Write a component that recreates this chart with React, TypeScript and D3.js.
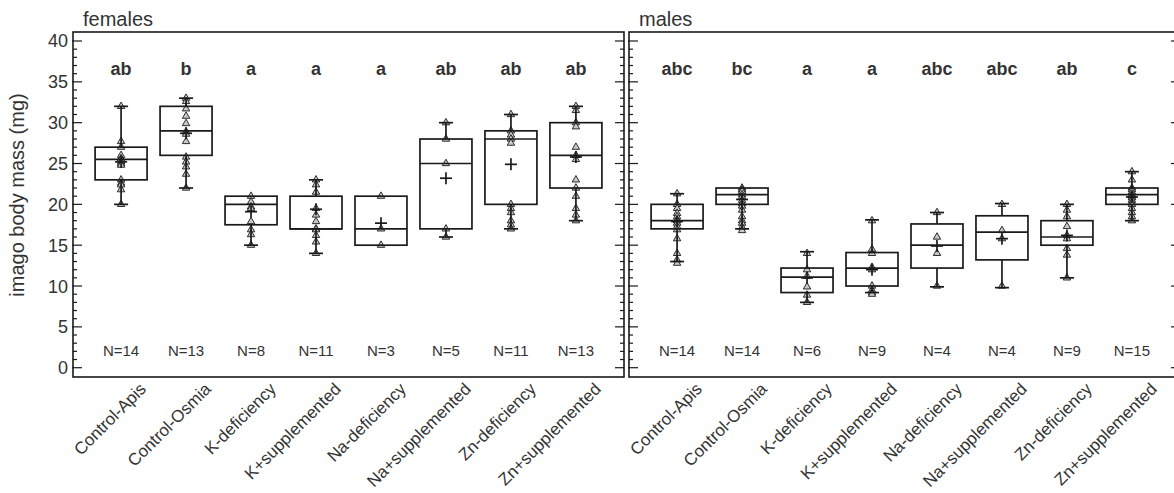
import * as d3 from "d3";

// treatment groups, same order in both panels
const categories = [
  "Control-Apis",
  "Control-Osmia",
  "K-deficiency",
  "K+supplemented",
  "Na-deficiency",
  "Na+supplemented",
  "Zn-deficiency",
  "Zn+supplemented",
];

// [min, q1, median, q3, max, mean]
const femaleBoxes = [
  [20, 23, 25.5, 27, 32, 25.2],
  [22, 26, 29, 32, 33, 28.7],
  [15, 17.5, 20, 21, 21, 19.1],
  [14, 17, 17, 21, 23, 19.4],
  [15, 15, 17, 21, 21, 17.7],
  [16, 17, 25, 28, 30, 23.2],
  [17, 20, 28, 29, 31, 24.9],
  [18, 22, 26, 30, 32, 25.8],
];
const malesBoxes = [
  [13, 17, 18, 20, 21.3, 17.9],
  [17, 20, 21.2, 22, 22, 20.6],
  [8, 9.2, 11.1, 12.2, 14.2, 11],
  [9.2, 10, 12.2, 14.1, 18.1, 12],
  [9.9, 12.2, 15, 17.6, 19, 14.9],
  [9.8, 13.2, 16.6, 18.6, 20.1, 15.8],
  [11, 15, 16, 18, 20, 16.2],
  [18, 20, 21.2, 22, 24, 20.9],
];

const femalePoints = [
  [32, 27.7, 27, 26, 25.6, 25.5, 25.2, 25, 24.8, 23, 22.6, 22.4, 21.8, 20],
  [33, 32.6, 31.7, 30.8, 29.9, 28.9, 28.6, 27.7, 25.8, 25.2, 24.6, 23.7, 22],
  [21, 20.3, 19.7, 19.5, 17.9, 16.9, 16.3, 15],
  [23, 22.4, 21.5, 19.5, 18.7, 17.9, 17, 16.9, 16.2, 15.4, 14],
  [21, 17, 15],
  [30, 28, 25, 17, 16],
  [31, 29, 28.5, 28, 27.5, 20, 19.5, 19, 18, 17.5, 17],
  [32, 31.5, 30, 29.5, 27, 26, 25.5, 23, 22, 21, 19.5, 18.7, 18],
];
const malePoints = [
  [21.3, 20, 19.5, 18.9, 18.5, 18.1, 18, 17.7, 17.3, 16.9, 15.8, 14, 13.2, 12.8],
  [22, 21.8, 21.6, 21.2, 20.9, 20.5, 20.1, 19.8, 19.3, 18.5, 18, 17.7, 17.2, 16.8],
  [14, 12, 11.2, 9.9, 8.9, 8],
  [18, 14.5, 14, 12.3, 12, 10, 9.5, 9.2, 9],
  [19, 16, 14, 10],
  [20, 16.8, 15.8, 10],
  [20, 19.3, 18.5, 17.3, 16.2, 15.8, 14.6, 13.8, 11],
  [24, 23, 22, 21.8, 21.5, 21.2, 21, 20.8, 20.5, 20.2, 20, 19.5, 19, 18.5, 18],
];

const femaleLetters = ["ab", "b", "a", "a", "a", "ab", "ab", "ab"];
const maleLetters = ["abc", "bc", "a", "a", "abc", "abc", "ab", "c"];
const femaleN = [14, 13, 8, 11, 3, 5, 11, 13];
const maleN = [14, 14, 6, 9, 4, 4, 9, 15];

const majorTicks = d3.range(0, 41, 5);
const minorTicks = d3.range(0, 41, 1);

const W = 1174;
const H = 493;
const top = 32;
const bottom = 377;
const font = "'Liberation Sans', Arial, sans-serif";
const ink = "#1a1a1a";
const txt = "#333";

const y = d3.scaleLinear().domain([0, 40]).range([367.7, 41]);

const tri = d3.symbol().type(d3.symbolTriangle).size(24);

type PanelProps = {
  left: number;
  right: number;
  label: string;
  boxes: number[][];
  points: number[][];
  letters: string[];
  counts: number[];
  showLabels: boolean;
};

const Panel = ({ left, right, label, boxes, points, letters, counts, showLabels }: PanelProps) => {
  const x = d3.scalePoint().domain(categories).range([left, right]).padding(0.74);
  const bw = x.step() * 0.8;
  const cap = 7;

  return (
    <g>
      <text x={left + 10} y={26} fontSize={20} fill={txt} fontFamily={font}>
        {label}
      </text>

      {/* ticks, pointing inward on both sides */}
      {minorTicks.map((t) => {
        const len = t % 5 === 0 ? 9 : 4;
        return (
          <g key={t} stroke={ink} strokeWidth={1.2}>
            <line x1={left - (t % 5 === 0 ? 1 : 0)} x2={left + len} y1={y(t)} y2={y(t)} />
            <line x1={right} x2={right - len} y1={y(t)} y2={y(t)} />
          </g>
        );
      })}
      {showLabels &&
        majorTicks.map((t) => (
          <text
            key={t}
            x={left - 5}
            y={y(t)}
            dy="0.36em"
            textAnchor="end"
            fontSize={18}
            fill={txt}
            fontFamily={font}
          >
            {t}
          </text>
        ))}

      {categories.map((c, i) => {
        const cx = x(c)!;
        const [mn, q1, md, q3, mx, mean] = boxes[i];
        return (
          <g key={c}>
            {points[i].map((v, j) => (
              <path
                key={j}
                d={tri()!}
                transform={`translate(${cx},${y(v)})`}
                fill="#c8c8c8"
                stroke={ink}
                strokeWidth={0.9}
              />
            ))}
            <g stroke={ink} strokeWidth={1.7} fill="none">
              {mx > q3 && (
                <>
                  <line x1={cx} x2={cx} y1={y(q3)} y2={y(mx)} />
                  <line x1={cx - cap} x2={cx + cap} y1={y(mx)} y2={y(mx)} />
                </>
              )}
              {mn < q1 && (
                <>
                  <line x1={cx} x2={cx} y1={y(q1)} y2={y(mn)} />
                  <line x1={cx - cap} x2={cx + cap} y1={y(mn)} y2={y(mn)} />
                </>
              )}
              <rect x={cx - bw / 2} y={y(q3)} width={bw} height={y(q1) - y(q3)} />
              <line x1={cx - bw / 2} x2={cx + bw / 2} y1={y(md)} y2={y(md)} />
              <line x1={cx - 6} x2={cx + 6} y1={y(mean)} y2={y(mean)} />
              <line x1={cx} x2={cx} y1={y(mean) - 6} y2={y(mean) + 6} />
            </g>
            <text
              x={cx}
              y={y(35.8)}
              textAnchor="middle"
              fontSize={18}
              fontWeight="bold"
              fill={txt}
              fontFamily={font}
            >
              {letters[i]}
            </text>
            <text x={cx} y={y(1.4)} textAnchor="middle" fontSize={15} fill={txt} fontFamily={font}>
              N={counts[i]}
            </text>
            <text
              transform={`translate(${cx + 26},${bottom + 13}) rotate(-45)`}
              textAnchor="end"
              fontSize={17}
              fill={txt}
              fontFamily={font}
            >
              {c}
            </text>
          </g>
        );
      })}

      <rect
        x={left}
        y={top}
        width={right - left}
        height={bottom - top}
        fill="none"
        stroke={ink}
        strokeWidth={1.6}
      />
    </g>
  );
};

const App = () => {
  return (
    <svg
      width={W}
      height={H}
      style={{ position: "absolute", left: 0, top: 0, background: "#fff" }}
    >
      <text
        transform={`translate(24,195) rotate(-90)`}
        textAnchor="middle"
        fontSize={20}
        fill={txt}
        fontFamily={font}
      >
        imago body mass (mg)
      </text>
      <Panel
        left={73}
        right={624}
        label="females"
        boxes={femaleBoxes}
        points={femalePoints}
        letters={femaleLetters}
        counts={femaleN}
        showLabels={true}
      />
      <Panel
        left={629}
        right={1180}
        label="males"
        boxes={malesBoxes}
        points={malePoints}
        letters={maleLetters}
        counts={maleN}
        showLabels={false}
      />
    </svg>
  );
};

export default App;
